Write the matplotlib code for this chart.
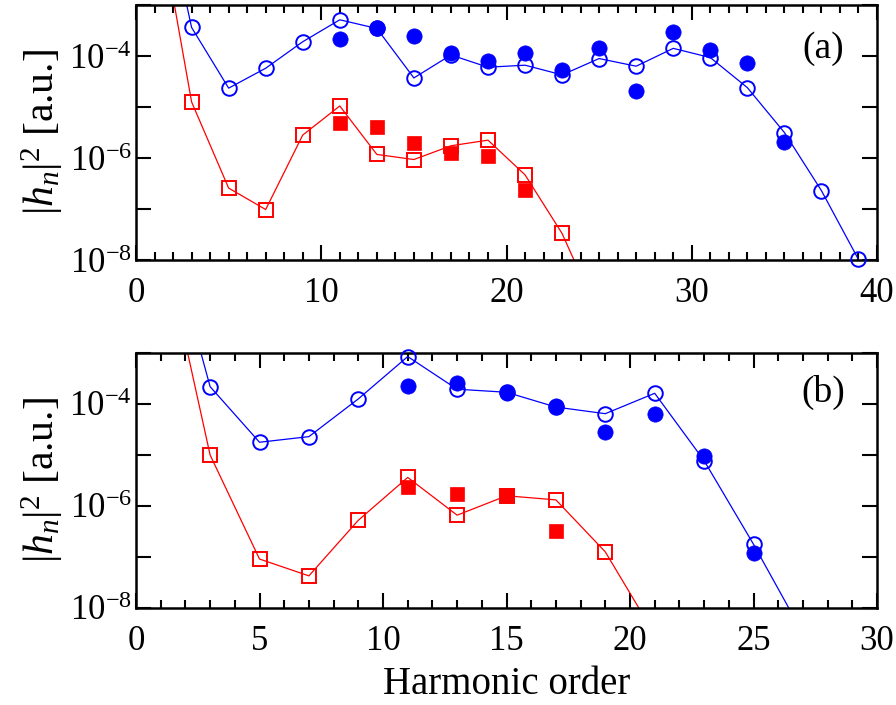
import matplotlib
matplotlib.use('Agg')
import matplotlib.pyplot as plt
import matplotlib.ticker as mticker
import numpy as np

plt.rcParams['font.family'] = ['Liberation Serif', 'DejaVu Serif']
plt.rcParams['mathtext.fontset'] = 'custom'
plt.rcParams['mathtext.rm'] = 'Liberation Serif'
plt.rcParams['mathtext.it'] = 'Liberation Serif:italic'

## panel (a): log10 of |h_n|^2
open_n_a = [1, 3, 5, 7, 9, 11, 13, 15, 17, 19, 21, 23, 25, 27, 29, 31, 33, 35, 37, 39]
open_circ_a = [-0.1, -3.44, -4.63, -4.24, -3.72, -3.29, -3.46, -4.43, -3.98, -4.22,
               -4.18, -4.37, -4.05, -4.20, -3.85, -4.03, -4.62, -5.50, -6.64, -7.99]
fill_n_a = [11, 13, 15, 17, 19, 21, 23, 25, 27, 29, 31, 33, 35]
fill_circ_a = [-3.67, -3.46, -3.61, -3.95, -4.10, -3.95, -4.27, -3.84, -4.68, -3.53,
               -3.88, -4.13, -5.69]
sq_n_a = [1, 3, 5, 7, 9, 11, 13, 15, 17, 19, 21, 23, 25]
open_sq_a = [-0.8, -4.90, -6.59, -7.01, -5.55, -4.98, -5.93, -6.03, -5.76, -5.65,
             -6.33, -7.48, -9.1]
fsq_n_a = [11, 13, 15, 17, 19, 21]
fill_sq_a = [-5.31, -5.39, -5.71, -5.91, -5.97, -6.63]

## panel (b)
open_n_b = [1, 3, 5, 7, 9, 11, 13, 15, 17, 19, 21, 23, 25, 27]
open_circ_b = [-0.1, -3.66, -4.75, -4.64, -3.90, -3.07, -3.71, -3.77, -4.06, -4.19,
               -3.79, -5.11, -6.75, -8.5]
fill_n_b = [11, 13, 15, 17, 19, 21, 23, 25]
fill_circ_b = [-3.64, -3.58, -3.79, -4.04, -4.55, -4.19, -5.02, -6.93]
sq_n_b = [1, 3, 5, 7, 9, 11, 13, 15, 17, 19, 21]
open_sq_b = [-0.6, -5.0, -7.04, -7.37, -6.28, -5.44, -6.18, -5.80, -5.88, -6.90, -8.52]
fsq_n_b = [11, 13, 15, 17]
fill_sq_b = [-5.63, -5.77, -5.78, -6.49]

ymin, ymax = 1e-8, 1e-3


def exp_label(v, pos):
    e = int(round(np.log10(v)))
    if e % 2:
        return ''
    return r'$\mathregular{10^{%d}}$' % e


def visible(n, v):
    n, v = np.asarray(n), 10.0 ** np.asarray(v)
    keep = (v >= ymin * 0.95) & (v <= ymax * 1.05)
    return n[keep], v[keep]


def panel(ax, on, oc, fn, fc, sn, so, fsn, fs, xmax, xmajor, tag, tagy):
    ax.set_yscale('log')
    # lines through the open symbols (clipped at the frame)
    ax.plot(sn, 10.0 ** np.array(so), '-', color='red', lw=0.9)
    ax.plot(on, 10.0 ** np.array(oc), '-', color='blue', lw=0.9)
    # symbols, only those inside the range, drawn over the frame
    x, y = visible(sn, so)
    ax.plot(x, y, 's', ms=10, mfc='none', mec='red', mew=1.4, clip_on=False, zorder=4)
    x, y = visible(fsn, fs)
    ax.plot(x, y, 's', ms=10.5, color='red', mew=0.5, clip_on=False, zorder=5)
    x, y = visible(on, oc)
    ax.plot(x, y, 'o', ms=10.5, mfc='none', mec='blue', mew=1.4, clip_on=False, zorder=4)
    x, y = visible(fn, fc)
    ax.plot(x, y, 'o', ms=11, color='blue', mew=0.5, clip_on=False, zorder=5)

    ax.set_xlim(0, xmax)
    ax.set_ylim(ymin, ymax)
    ax.xaxis.set_major_locator(mticker.MultipleLocator(xmajor))
    ax.xaxis.set_minor_locator(mticker.MultipleLocator(1))
    ax.yaxis.set_major_locator(mticker.LogLocator(base=10, numticks=20))
    ax.yaxis.set_minor_locator(mticker.NullLocator())
    ax.yaxis.set_major_formatter(mticker.FuncFormatter(exp_label))
    ax.tick_params(which='both', direction='in', top=True, right=True, width=1.5)
    ax.tick_params(which='major', length=11)
    ax.tick_params(which='minor', length=5.5)
    ax.tick_params(axis='x', labelsize=25, pad=12)
    ax.tick_params(axis='y', labelsize=25, pad=3)
    for s in ax.spines.values():
        s.set_linewidth(1.8)
    ax.set_ylabel(r'$|h_n|^2$ [a.u.]', fontsize=30, labelpad=3)
    ax.text(0.928, tagy, tag, transform=ax.transAxes, fontsize=27,
            ha='center', va='center')


fig = plt.figure(figsize=(8.96, 7.05), dpi=100)
ax1 = fig.add_axes([0.1518, 0.6312, 0.8270, 0.3617])
ax2 = fig.add_axes([0.1518, 0.1376, 0.8270, 0.3617])

panel(ax1, open_n_a, open_circ_a, fill_n_a, fill_circ_a, sq_n_a, open_sq_a,
      fsq_n_a, fill_sq_a, 40, 10, '(a)', 0.83)
panel(ax2, open_n_b, open_circ_b, fill_n_b, fill_circ_b, sq_n_b, open_sq_b,
      fsq_n_b, fill_sq_b, 30, 5, '(b)', 0.845)
ax2.set_xlabel('Harmonic order', fontsize=28, labelpad=6)

fig.savefig('out.png', dpi=100)
